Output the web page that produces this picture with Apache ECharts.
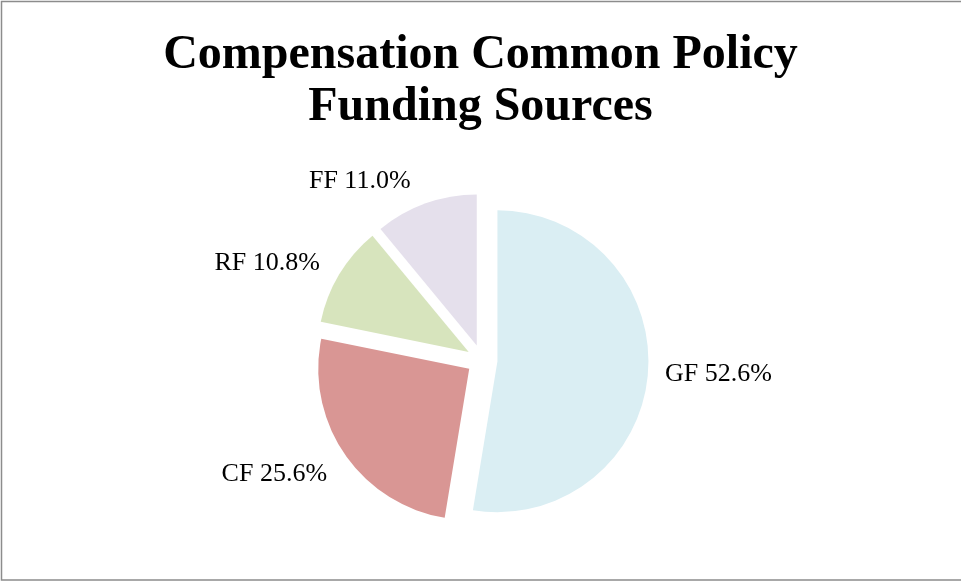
<!DOCTYPE html>
<html>
<head>
<meta charset="utf-8">
<title>Compensation Common Policy Funding Sources</title>
<script src="https://cdn.jsdelivr.net/npm/echarts@6/dist/echarts.min.js"></script>
<style>
  html, body { margin: 0; padding: 0; background: #ffffff; }
  #chart { width: 961px; height: 582px; }
</style>
</head>
<body>
<div id="chart"></div>
<script>
// Funding sources and their shares of the total (percent)
const sources = ['GF', 'CF', 'RF', 'FF'];
const shares = [52.6, 25.6, 10.8, 11.0];
const sliceColors = ['#DAEEF3', '#D99694', '#D7E4BD', '#E5E0EC'];
// Per-slice label placement: radial distance, horizontal run, right padding
const labelReach = [12, 35, 21.7, 23.2];
const labelRun = [0, -19, -8.3, -3.8];
const labelPadRight = [0, 3, 4, 6];

const chart = echarts.init(document.getElementById('chart'), null, { renderer: 'canvas' });

const pieData = sources.map((name, i) => ({
  name: name,
  value: shares[i],
  selected: true,
  itemStyle: { color: sliceColors[i] },
  label: { padding: [0, labelPadRight[i], 0, 0] },
  labelLine: { show: false, length: labelReach[i], length2: labelRun[i] }
}));

chart.setOption({
  backgroundColor: '#ffffff',
  animation: false,
  title: {
    text: 'Compensation Common Policy\nFunding Sources',
    left: 'center',
    top: 25,
    textStyle: {
      fontFamily: 'Liberation Serif',
      fontWeight: 'bold',
      fontSize: 48,
      lineHeight: 52,
      color: '#000000'
    }
  },
  graphic: [{
    type: 'rect',
    silent: true,
    shape: { x: 1.5, y: 1.5, width: 962, height: 578.5 },
    style: { fill: 'none', stroke: '#8c8c8c', lineWidth: 1.5 }
  }],
  series: [{
    type: 'pie',
    center: [482, 360],
    radius: 151,
    startAngle: 90,
    clockwise: true,
    selectedMode: 'multiple',
    selectedOffset: 15.5,
    avoidLabelOverlap: false,
    emphasis: { disabled: true },
    itemStyle: { borderWidth: 0 },
    label: {
      show: true,
      position: 'outside',
      fontFamily: 'Liberation Serif',
      fontSize: 26,
      color: '#000000',
      formatter: (p) => p.name + ' ' + p.value.toFixed(1) + '%'
    },
    labelLine: { show: false, length: 12, length2: 0 },
    data: pieData
  }]
});
</script>
</body>
</html>
